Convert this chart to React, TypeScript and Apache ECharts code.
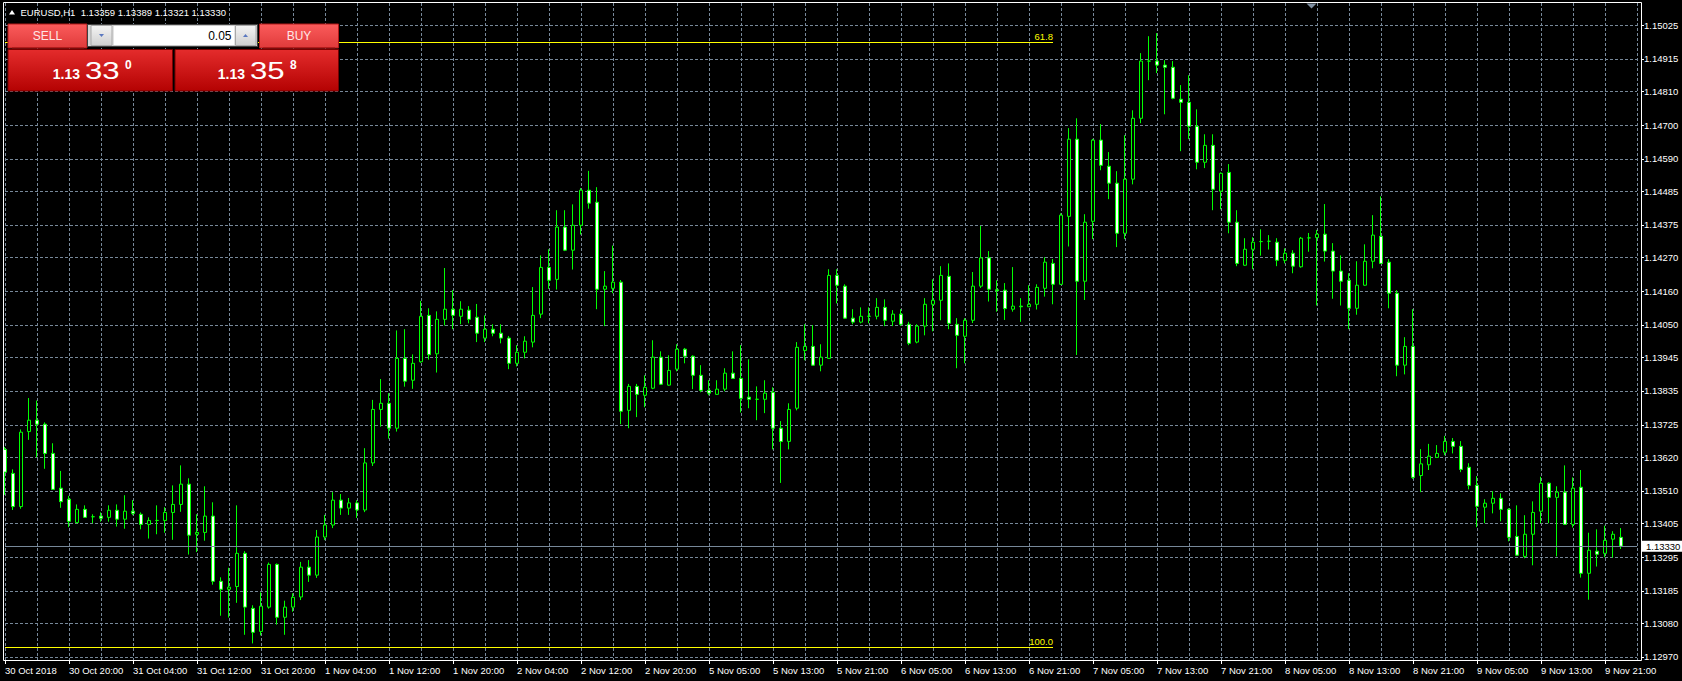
import React, { useEffect, useRef } from 'react';
import * as echarts from 'echarts';

const opens = [1.13645,1.13567,1.13459,1.13703,1.13740,1.13727,1.13632,1.13519,1.13483,1.13407,1.13450,1.13426,1.13428,1.13424,1.13447,1.13418,1.13444,1.13434,1.13401,1.13414,1.13414,1.13440,1.13466,1.13532,1.13369,1.13375,1.13428,1.13216,1.13190,1.13199,1.13307,1.13128,1.13053,1.13132,1.13271,1.13099,1.13132,1.13165,1.13262,1.13236,1.13360,1.13399,1.13480,1.13454,1.13471,1.13448,1.13601,1.13775,1.13795,1.13714,1.13941,1.13870,1.13930,1.14081,1.13956,1.14068,1.14101,1.14078,1.14098,1.14075,1.14007,1.14036,1.14023,1.14007,1.13925,1.13961,1.13994,1.14085,1.14237,1.14198,1.14368,1.14293,1.14374,1.14488,1.14449,1.14166,1.14169,1.14189,1.13772,1.13850,1.13821,1.13844,1.13945,1.13854,1.13906,1.13971,1.13948,1.13886,1.13837,1.13824,1.13841,1.13893,1.13876,1.13815,1.13808,1.13808,1.13831,1.13714,1.13671,1.13779,1.13967,1.13980,1.13919,1.13941,1.14211,1.14176,1.14072,1.14059,1.14078,1.14078,1.14107,1.14062,1.14085,1.14052,1.13994,1.14046,1.14117,1.14130,1.14208,1.14052,1.14013,1.14065,1.14176,1.14268,1.14164,1.14163,1.14101,1.14111,1.14109,1.14117,1.14169,1.14250,1.14182,1.14403,1.14654,1.14192,1.14387,1.14651,1.14566,1.14511,1.14348,1.14524,1.14722,1.14908,1.14908,1.14895,1.14888,1.14784,1.14774,1.14696,1.14579,1.14634,1.14485,1.14546,1.14384,1.14244,1.14296,1.14321,1.14322,1.14319,1.14260,1.14283,1.14239,1.14333,1.14334,1.14345,1.14290,1.14225,1.14195,1.14104,1.14179,1.14257,1.14338,1.14254,1.14153,1.13919,1.13980,1.13560,1.13595,1.13619,1.13636,1.13671,1.13655,1.13587,1.13528,1.13457,1.13470,1.13486,1.13450,1.13362,1.13297,1.13369,1.13444,1.13535,1.13489,1.13506,1.13401,1.13522,1.13242,1.13314,1.13307,1.13353,1.13359];
const closes = [1.13571,1.13459,1.13701,1.13740,1.13727,1.13632,1.13515,1.13475,1.13411,1.13450,1.13424,1.13426,1.13421,1.13447,1.13418,1.13444,1.13437,1.13401,1.13414,1.13414,1.13440,1.13466,1.13532,1.13366,1.13375,1.13428,1.13216,1.13190,1.13197,1.13307,1.13132,1.13050,1.13135,1.13271,1.13099,1.13132,1.13164,1.13262,1.13236,1.13360,1.13399,1.13480,1.13454,1.13471,1.13448,1.13601,1.13775,1.13795,1.13714,1.13941,1.13867,1.13925,1.14078,1.13953,1.14068,1.14101,1.14081,1.14101,1.14068,1.14023,1.14036,1.14023,1.14007,1.13925,1.13961,1.13997,1.14081,1.14237,1.14195,1.14368,1.14293,1.14374,1.14488,1.14446,1.14166,1.14176,1.14189,1.13769,1.13850,1.13824,1.13847,1.13945,1.13857,1.13902,1.13971,1.13948,1.13886,1.13837,1.13828,1.13841,1.13893,1.13876,1.13811,1.13808,1.13808,1.13828,1.13714,1.13671,1.13775,1.13977,1.13980,1.13919,1.13945,1.14211,1.14179,1.14072,1.14059,1.14078,1.14078,1.14107,1.14065,1.14085,1.14052,1.13990,1.14046,1.14117,1.14130,1.14211,1.14055,1.14016,1.14065,1.14176,1.14268,1.14166,1.14161,1.14103,1.14111,1.14109,1.14117,1.14172,1.14254,1.14182,1.14407,1.14654,1.14192,1.14384,1.14651,1.14569,1.14511,1.14348,1.14524,1.14722,1.14908,1.14908,1.14895,1.14888,1.14787,1.14774,1.14696,1.14579,1.14634,1.14491,1.14543,1.14384,1.14250,1.14296,1.14319,1.14321,1.14322,1.14260,1.14283,1.14241,1.14332,1.14333,1.14345,1.14290,1.14225,1.14192,1.14104,1.14179,1.14257,1.14342,1.14250,1.14153,1.13919,1.13980,1.13554,1.13598,1.13623,1.13632,1.13671,1.13655,1.13580,1.13528,1.13460,1.13470,1.13486,1.13450,1.13359,1.13301,1.13369,1.13440,1.13535,1.13489,1.13506,1.13401,1.13519,1.13242,1.13317,1.13304,1.13349,1.13369,1.13330];
const highs = [1.13653,1.13580,1.13710,1.13812,1.13804,1.13733,1.13665,1.13575,1.13494,1.13466,1.13463,1.13434,1.13440,1.13463,1.13466,1.13496,1.13480,1.13440,1.13424,1.13463,1.13457,1.13528,1.13593,1.13551,1.13434,1.13525,1.13473,1.13229,1.13260,1.13463,1.13314,1.13138,1.13180,1.13277,1.13274,1.13153,1.13177,1.13279,1.13285,1.13383,1.13432,1.13506,1.13500,1.13487,1.13480,1.13649,1.13806,1.13874,1.13828,1.14032,1.14036,1.13954,1.14128,1.14104,1.14094,1.14235,1.14163,1.14127,1.14111,1.14118,1.14081,1.14052,1.14052,1.14014,1.13984,1.14013,1.14173,1.14276,1.14296,1.14423,1.14423,1.14442,1.14495,1.14551,1.14498,1.14225,1.14308,1.14196,1.13858,1.13858,1.13886,1.14000,1.13964,1.13951,1.13987,1.13975,1.13951,1.13919,1.13870,1.13870,1.13909,1.13964,1.13984,1.13938,1.13850,1.13870,1.13847,1.13737,1.13795,1.13994,1.14052,1.14049,1.13987,1.14231,1.14231,1.14182,1.14101,1.14107,1.14107,1.14137,1.14133,1.14098,1.14101,1.14060,1.14052,1.14137,1.14198,1.14241,1.14250,1.14072,1.14072,1.14222,1.14372,1.14290,1.14195,1.14186,1.14238,1.14137,1.14179,1.14182,1.14270,1.14264,1.14413,1.14690,1.14722,1.14410,1.14655,1.14703,1.14612,1.14550,1.14667,1.14748,1.14934,1.14989,1.14999,1.14911,1.14908,1.14830,1.14862,1.14751,1.14670,1.14670,1.14546,1.14573,1.14423,1.14332,1.14335,1.14361,1.14342,1.14332,1.14299,1.14293,1.14336,1.14349,1.14359,1.14443,1.14316,1.14276,1.14218,1.14257,1.14312,1.14407,1.14468,1.14264,1.14163,1.14010,1.14101,1.13646,1.13663,1.13659,1.13689,1.13682,1.13672,1.13600,1.13558,1.13483,1.13509,1.13502,1.13454,1.13463,1.13431,1.13476,1.13556,1.13538,1.13525,1.13593,1.13554,1.13578,1.13374,1.13385,1.13397,1.13379,1.13389];
const lows = [1.13497,1.13448,1.13452,1.13676,1.13619,1.13582,1.13513,1.13455,1.13392,1.13405,1.13422,1.13405,1.13410,1.13410,1.13394,1.13387,1.13431,1.13385,1.13355,1.13369,1.13374,1.13351,1.13442,1.13303,1.13311,1.13348,1.13205,1.13104,1.13098,1.13146,1.13042,1.13014,1.13040,1.13127,1.13075,1.13042,1.13117,1.13155,1.13214,1.13227,1.13350,1.13389,1.13432,1.13432,1.13422,1.13441,1.13591,1.13719,1.13680,1.13703,1.13849,1.13842,1.13927,1.13937,1.13895,1.14048,1.14036,1.14052,1.14055,1.13994,1.13994,1.14013,1.13990,1.13906,1.13915,1.13941,1.13977,1.14072,1.14167,1.14165,1.14290,1.14230,1.14344,1.14428,1.14101,1.14046,1.14153,1.13727,1.13714,1.13750,1.13782,1.13841,1.13855,1.13852,1.13899,1.13925,1.13841,1.13831,1.13821,1.13822,1.13834,1.13874,1.13765,1.13779,1.13740,1.13763,1.13645,1.13536,1.13645,1.13772,1.13935,1.13917,1.13899,1.13939,1.14120,1.14070,1.14052,1.14055,1.14055,1.14068,1.14046,1.14046,1.14047,1.13984,1.13990,1.14016,1.14029,1.14065,1.14036,1.13909,1.13925,1.14056,1.14170,1.14126,1.14093,1.14066,1.14093,1.14060,1.14108,1.14100,1.14142,1.14117,1.14180,1.14305,1.13952,1.14131,1.14329,1.14553,1.14459,1.14303,1.14329,1.14507,1.14706,1.14846,1.14869,1.14735,1.14784,1.14615,1.14654,1.14556,1.14560,1.14423,1.14426,1.14348,1.14241,1.14242,1.14231,1.14275,1.14295,1.14241,1.14250,1.14218,1.14236,1.14288,1.14113,1.14256,1.14135,1.14113,1.14036,1.14083,1.14177,1.14234,1.14248,1.14104,1.13883,1.13889,1.13549,1.13506,1.13578,1.13617,1.13626,1.13632,1.13571,1.13515,1.13392,1.13405,1.13437,1.13411,1.13346,1.13298,1.13291,1.13268,1.13405,1.13405,1.13297,1.13399,1.13391,1.13228,1.13156,1.13264,1.13294,1.13293,1.13321];

const xLabels = ['30 Oct 2018','30 Oct 20:00','31 Oct 04:00','31 Oct 12:00','31 Oct 20:00','1 Nov 04:00','1 Nov 12:00','1 Nov 20:00','2 Nov 04:00','2 Nov 12:00','2 Nov 20:00','5 Nov 05:00','5 Nov 13:00','5 Nov 21:00','6 Nov 05:00','6 Nov 13:00','6 Nov 21:00','7 Nov 05:00','7 Nov 13:00','7 Nov 21:00','8 Nov 05:00','8 Nov 13:00','8 Nov 21:00','9 Nov 05:00','9 Nov 13:00','9 Nov 21:00'];
const yTicks = [1.12970,1.13080,1.13185,1.13295,1.13405,1.13510,1.13620,1.13725,1.13835,1.13945,1.14050,1.14160,1.14270,1.14375,1.14485,1.14590,1.14700,1.14810,1.14915,1.15025];
const fibLevels = ['61.8', '100.0'];
const fibPrices = [1.14969, 1.13001];
const fibEndIndex = 131;
const lastPrice = 1.13330;
const titleText = 'EURUSD,H1  1.13359 1.13389 1.13321 1.13330';
const sellParts = ['1.13', '33', '0'];
const buyParts = ['1.13', '35', '8'];
const lotText = '0.05';

const FONT = '"Liberation Sans", Arial, sans-serif';
const GRID_COLOR = '#778899';
const PAD = 2;

export default function App() {
  const ref = useRef<HTMLDivElement>(null);
  useEffect(() => {
    if (!ref.current) return;
    const chart = echarts.init(ref.current, undefined, { renderer: 'svg' });
    const n = opens.length + PAD;
    const categories = Array.from({ length: n }, (_, i) => String(i));
    const data = opens.map((o, i) => [o, closes[i], lows[i], highs[i]]);
    const labelIdx = (i: number) => i % 8 === 0 && i / 8 < xLabels.length;

    const redBtn = { type: 'linear', x: 0, y: 0, x2: 0, y2: 1, colorStops: [{ offset: 0, color: '#fb5c5c' }, { offset: 1, color: '#e03a3a' }] };
    const redBox = { type: 'linear', x: 0, y: 0, x2: 0, y2: 1, colorStops: [{ offset: 0, color: '#e42c2c' }, { offset: 1, color: '#b40202' }] };
    const grayBtn = { type: 'linear', x: 0, y: 0, x2: 0, y2: 1, colorStops: [{ offset: 0, color: '#f4f4f4' }, { offset: 1, color: '#cfcfcf' }] };

    const priceGroup = (parts: string[], x0: number) => [
      { type: 'text', z: 101, x: x0, y: 73.5, style: { text: parts[0], fill: '#fff', font: `bold 14px ${FONT}`, align: 'right', verticalAlign: 'middle' } },
      { type: 'text', z: 101, x: x0 + 5, y: 70.5, scaleX: 1.3, style: { text: parts[1], fill: '#fff', font: `24px ${FONT}`, align: 'left', verticalAlign: 'middle' } },
      { type: 'text', z: 101, x: x0 + 45, y: 64.5, style: { text: parts[2], fill: '#fff', font: `bold 12px ${FONT}`, align: 'left', verticalAlign: 'middle' } },
    ];

    const graphic: any[] = [
      { type: 'rect', z: 90, shape: { x: 3.5, y: 2.5, width: 1638, height: 658 }, style: { fill: 'none', stroke: '#ffffff', lineWidth: 1 } },
      { type: 'polygon', z: 90, shape: { points: [[1306.5, 3.5], [1316.5, 3.5], [1311.5, 8.5]] }, style: { fill: '#8090a2' } },
      { type: 'polygon', z: 101, shape: { points: [[9, 14.5], [15, 14.5], [12, 10]] }, style: { fill: '#fff' } },
      { type: 'text', z: 101, x: 20.5, y: 12, style: { text: titleText, fill: '#fff', font: `9.5px ${FONT}`, align: 'left', verticalAlign: 'middle' } },
      { type: 'rect', z: 100, shape: { x: 8, y: 24, width: 79, height: 24 }, style: { fill: redBtn, stroke: '#b01818', lineWidth: 1 } },
      { type: 'line', z: 101, shape: { x1: 12, y1: 48, x2: 84, y2: 48 }, style: { stroke: '#9a1010', lineWidth: 1 } },
      { type: 'text', z: 101, x: 47.5, y: 35.5, style: { text: 'SELL', fill: '#ffe6e6', font: `12px ${FONT}`, align: 'center', verticalAlign: 'middle' } },
      { type: 'rect', z: 100, shape: { x: 259.5, y: 24, width: 79, height: 24 }, style: { fill: redBtn, stroke: '#b01818', lineWidth: 1 } },
      { type: 'line', z: 101, shape: { x1: 263, y1: 48, x2: 335, y2: 48 }, style: { stroke: '#9a1010', lineWidth: 1 } },
      { type: 'text', z: 101, x: 299, y: 35.5, style: { text: 'BUY', fill: '#ffe6e6', font: `12px ${FONT}`, align: 'center', verticalAlign: 'middle' } },
      { type: 'rect', z: 100, shape: { x: 8, y: 49.5, width: 164.5, height: 41.5 }, style: { fill: redBox, stroke: '#7a0000', lineWidth: 1 } },
      { type: 'rect', z: 100, shape: { x: 175, y: 49.5, width: 163.5, height: 41.5 }, style: { fill: redBox, stroke: '#7a0000', lineWidth: 1 } },
      ...priceGroup(sellParts, 80),
      ...priceGroup(buyParts, 245),
      { type: 'rect', z: 100, shape: { x: 87.5, y: 24.5, width: 170, height: 22 }, style: { fill: '#d4d4d4', stroke: '#404040', lineWidth: 1 } },
      { type: 'rect', z: 101, shape: { x: 91, y: 25.5, width: 21, height: 20 }, style: { fill: grayBtn, stroke: '#a8a8a8', lineWidth: 1 } },
      { type: 'polygon', z: 102, shape: { points: [[99, 34], [104, 34], [101.5, 37]] }, style: { fill: '#5a78c0' } },
      { type: 'rect', z: 101, shape: { x: 113, y: 25.5, width: 122, height: 20 }, style: { fill: '#ffffff', stroke: '#c8c8c8', lineWidth: 1 } },
      { type: 'text', z: 102, x: 231.5, y: 35.5, style: { text: lotText, fill: '#000', font: `12px ${FONT}`, align: 'right', verticalAlign: 'middle' } },
      { type: 'rect', z: 101, shape: { x: 235.5, y: 25.5, width: 20.5, height: 20 }, style: { fill: grayBtn, stroke: '#a8a8a8', lineWidth: 1 } },
      { type: 'polygon', z: 102, shape: { points: [[243, 37], [248, 37], [245.5, 34]] }, style: { fill: '#5a78c0' } },
    ];

    const fibLines = fibPrices.map((p, k) => [
      { coord: [0, p], lineStyle: { color: '#ffff00', type: 'solid', width: 1 }, label: { show: true, position: 'insideEndTop', formatter: fibLevels[k], color: '#ffff00', fontSize: 9.5, fontFamily: FONT, distance: [0, 1] } },
      { coord: [fibEndIndex, p] },
    ]);
    const priceLine = [
      { coord: [0, lastPrice], lineStyle: { color: GRID_COLOR, type: 'solid', width: 1 }, label: { show: true, position: 'end', distance: 5, formatter: lastPrice.toFixed(5), backgroundColor: '#ffffff', color: '#000000', padding: [1, 12, 0, 4], lineHeight: 10, fontSize: 9.5, fontFamily: FONT } },
      { coord: [n - 1, lastPrice] },
    ];

    chart.setOption({
      animation: false,
      backgroundColor: '#000000',
      textStyle: { fontFamily: FONT },
      grid: { left: 5, top: 3, width: 8 * (n - 1), height: 657, containLabel: false },
      xAxis: {
        type: 'category',
        data: categories,
        boundaryGap: false,
        axisLine: { show: false },
        axisTick: { show: true, interval: labelIdx, length: 4, lineStyle: { color: '#ffffff' } },
        axisLabel: {
          show: true, interval: labelIdx, align: 'left', margin: 5,
          formatter: (_v: string, i: number) => xLabels[i / 8] ?? '',
          color: '#ffffff', fontSize: 9.5, fontFamily: FONT,
        },
        splitLine: { show: true, interval: (i: number) => i % 4 === 0, lineStyle: { color: GRID_COLOR, type: [3, 2], width: 1 } },
      },
      yAxis: {
        type: 'value',
        position: 'right',
        offset: 4,
        min: 1.1296,
        max: 1.15097,
        axisLine: { show: false },
        axisTick: { show: true, customValues: yTicks, length: 3, lineStyle: { color: '#ffffff' } },
        axisLabel: { show: true, customValues: yTicks, formatter: (v: number) => v.toFixed(5), color: '#ffffff', fontSize: 9.5, fontFamily: FONT, margin: 3 },
        splitLine: { show: true, lineStyle: { color: GRID_COLOR, type: [3, 2], width: 1 } },
      },
      series: [
        {
          type: 'candlestick',
          data,
          barWidth: 4,
          itemStyle: { color: '#000000', color0: '#ffffff', borderColor: '#00ff00', borderColor0: '#00ff00', borderColorDoji: '#00ff00', borderWidth: 1 },
          markLine: {
            silent: true,
            symbol: ['none', 'none'],
            animation: false,
            data: [priceLine, ...fibLines],
          },
        },
      ],
      graphic,
    });
    return () => chart.dispose();
  }, []);
  return <div ref={ref} style={{ position: 'fixed', left: 0, top: 0, width: 1682, height: 681 }} />;
}
